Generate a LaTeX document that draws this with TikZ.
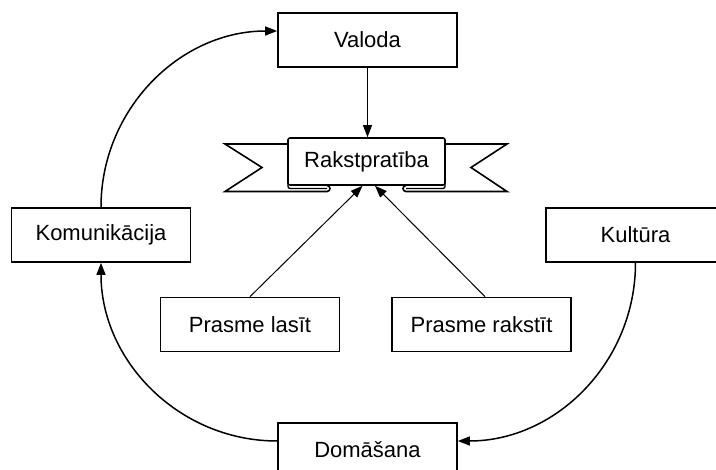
\documentclass[tikz,border=0pt]{standalone}
\usepackage{fontspec}
\setmainfont{Liberation Sans}
\usetikzlibrary{arrows.meta}
\tikzset{
	box/.style={draw, line width=1.7pt, fill=white, minimum width=179pt, minimum height=54pt, inner sep=0pt, font=\fontsize{22}{26}\selectfont},
	tip/.style={-{Triangle[length=12pt,width=9pt]}},
	band/.style={draw, line width=1.6pt, fill=white},
}
\begin{document}
\begin{tikzpicture}[x=1pt,y=-1pt]
		\clip (0,0) rectangle (716,470);
		\foreach \name/\x/\y/\txt in {valoda/367.5/40/Valoda, komun/101/235/Komunikācija, kultura/635.5/235/Kultūra, lasit/250/324.5/Prasme lasīt, rakstit/481.5/324.5/Prasme rakstīt, domasana/367.5/450/Domāšana}
		{
			\node[box] (\name) at (\x,\y) {\txt};
		}
		\draw[band] (288,144) -- (225,144) -- (262,167.5) -- (225,191.5) -- (327,191.5) arc[start angle=90, end angle=-90, radius=3];
		\draw[band] (445,144) -- (507,144) -- (471,167.5) -- (507,191.5) -- (406,191.5) arc[start angle=90, end angle=270, radius=3];
		\node[band, rounded corners=2pt, minimum width=157pt, minimum height=47pt, inner sep=0pt, font=\fontsize{22}{26}\selectfont] (rakst) at (366.5,161.5) {Rakstpratība};
		\draw[line width=1.3pt, rounded corners=2pt] (288,183) |- (327,188.5);
		\draw[line width=1.3pt, rounded corners=2pt] (445,183) |- (406,188.5);
		\draw[tip, line width=1pt] (valoda.south) -- (valoda.south |- rakst.north);
		\draw[tip, line width=1pt] (lasit.north) -- ([xshift=-4pt]rakst.south);
		\draw[tip, line width=1pt] ([xshift=3.5pt]rakstit.north) -- ([xshift=8.5pt]rakst.south);
		\draw[tip, line width=1.5pt] (komun.north) to[out=90, in=180] ([yshift=9pt]valoda.west);
		\draw[tip, line width=1.5pt] (kultura.south) to[out=-90, in=0] ([yshift=9pt]domasana.east);
		\draw[tip, line width=1.5pt] ([yshift=9pt]domasana.west) to[out=180, in=-90] (komun.south);
\end{tikzpicture}
\end{document}
